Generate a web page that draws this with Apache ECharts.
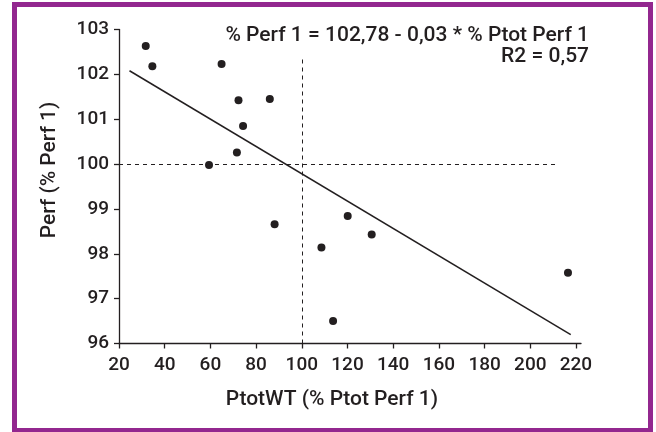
<!DOCTYPE html>
<html>
<head>
<meta charset="utf-8">
<script src="https://cdn.jsdelivr.net/npm/echarts@6/dist/echarts.min.js"></script>
<style>
html,body{margin:0;padding:0;background:#fff;}
#chart{width:656px;height:432px;}
</style>
</head>
<body>
<div id="chart"></div>
<script>
// Data
var xValues = [31.7, 34.6, 64.9, 72.3, 86.0, 74.3, 71.6, 59.4, 88.1, 108.6, 120.1, 130.6, 216.5, 113.7];
var yValues = [102.63, 102.18, 102.23, 101.42, 101.45, 100.85, 100.26, 99.98, 98.66, 98.14, 98.84, 98.43, 97.58, 96.5];
var fitX = [24.6, 217.7];
var fitY = [102.08, 96.2];
var xTicks = [20, 40, 60, 80, 100, 120, 140, 160, 180, 200, 220];
var yTicks = [96, 97, 98, 99, 100, 101, 102, 103];
var refH = [[20, 100], [211, 100]];
var refV = [[100, 96], [100, 102.38]];
var equationText = '% Perf 1 = 102,78 - 0,03 * % Ptot Perf 1';
var r2Text = 'R2 = 0,57';
var xTitle = 'PtotWT (% Ptot Perf 1)';
var yTitle = 'Perf (% Perf 1)';

var points = xValues.map(function (x, i) { return [x, yValues[i]]; });
var fitLine = fitX.map(function (x, i) { return [x, fitY[i]]; });

var FONT = 'Roboto';
var TXT = '#231f20';

var chart = echarts.init(document.getElementById('chart'), null, {renderer: 'canvas'});
chart.setOption({
  animation: false,
  backgroundColor: '#fff',
  grid: {left: 119, top: 29.5, width: 462, height: 314, containLabel: false},
  xAxis: {
    type: 'value', min: 20, max: 222.2,
    splitLine: {show: false},
    axisLine: {show: true, onZero: false, lineStyle: {color: TXT, width: 1.3}},
    axisTick: {show: true, inside: false, length: 5, customValues: xTicks, lineStyle: {color: TXT, width: 1.3}},
    axisLabel: {customValues: xTicks, margin: 12, color: TXT, fontFamily: FONT, fontSize: 19, fontWeight: 500}
  },
  yAxis: {
    type: 'value', min: 96, max: 103, interval: 1,
    splitLine: {show: false},
    axisLine: {show: true, onZero: false, lineStyle: {color: TXT, width: 1.3}},
    axisTick: {show: true, inside: false, length: 5, customValues: yTicks, lineStyle: {color: TXT, width: 1.3}},
    axisLabel: {customValues: yTicks, margin: 10, color: TXT, fontFamily: FONT, fontSize: 19, fontWeight: 500}
  },
  series: [
    {
      type: 'line', data: fitLine, symbol: 'none', silent: true,
      lineStyle: {color: TXT, width: 1.5},
      markLine: {
        silent: true, symbol: 'none', label: {show: false},
        lineStyle: {color: TXT, type: [4, 4], width: 1},
        data: [
          [{coord: refH[0]}, {coord: refH[1]}],
          [{coord: refV[0]}, {coord: refV[1]}]
        ]
      }
    },
    {
      type: 'scatter', data: points, symbol: 'circle', symbolSize: 8,
      itemStyle: {color: TXT, opacity: 1}
    }
  ],
  graphic: [
    {type: 'rect', shape: {x: 14.5, y: 4.5, width: 636, height: 426}, style: {fill: 'none', stroke: '#93278F', lineWidth: 5}},
    {type: 'text', x: 589, y: 36, style: {text: equationText, align: 'right', verticalAlign: 'middle', fill: TXT, font: '500 21px ' + FONT}},
    {type: 'text', x: 589, y: 57, style: {text: r2Text, align: 'right', verticalAlign: 'middle', fill: TXT, font: '500 21px ' + FONT}},
    {type: 'text', x: 332, y: 400, style: {text: xTitle, align: 'center', verticalAlign: 'middle', fill: TXT, font: '500 21px ' + FONT}},
    {type: 'text', x: 50, y: 170, rotation: Math.PI / 2, style: {text: yTitle, align: 'center', verticalAlign: 'middle', fill: TXT, font: '500 21px ' + FONT}}
  ]
});
</script>
</body>
</html>
